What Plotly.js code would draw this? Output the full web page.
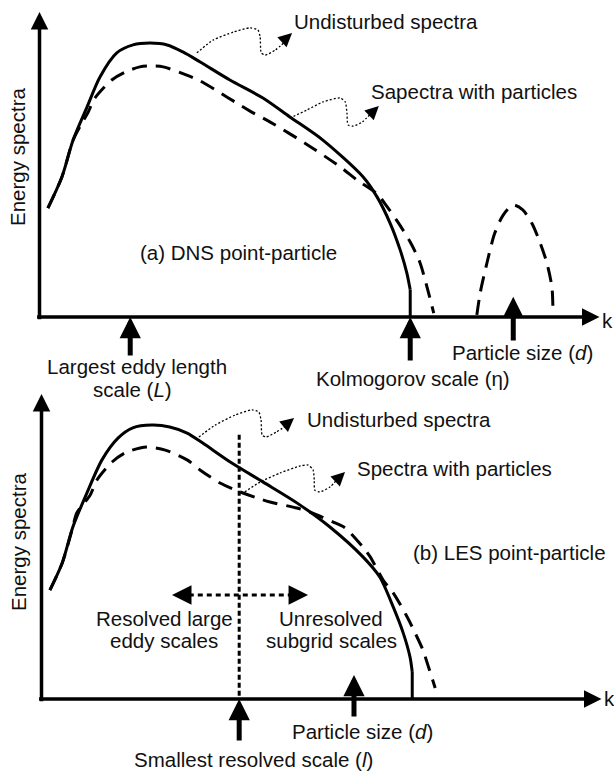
<!DOCTYPE html>
<html>
<head>
<meta charset="utf-8">
<script src="https://cdn.plot.ly/plotly-3.0.1.min.js"></script>
<style>html,body{margin:0;padding:0;background:#fff;}#chart{width:614px;height:771px;}</style>
</head>
<body>
<div id="chart"></div>
<script>
// ---------- Panel (a): DNS point-particle ----------
const topSolidK = [1.5, 4.0, 6.0, 8.5, 10.8, 13.8, 16.7, 19.7, 22.8, 25.6, 28.7, 34.0, 39.9, 44.7, 50.6, 57.8, 60.3, 62.6, 64.4, 65.6, 66.2];
const topSolidE = [35.7, 45.9, 58.0, 68.9, 78.7, 86.6, 89.2, 89.8, 89.2, 86.9, 83.6, 77.7, 71.8, 65.6, 58.0, 45.9, 39.3, 30.8, 22.0, 14.4, 8.9];
const topDropK = [66.2, 66.2];
const topDropE = [8.9, 0];
const topDashK = [1.5, 4.0, 6.0, 7.4, 8.7, 9.9, 12.9, 15.3, 17.9, 19.7, 22.1, 26.3, 28.7, 32.6, 34.9, 37.6, 41.2, 47.4, 53.7, 56.7, 60.3, 62.1, 64.0, 66.2, 67.9, 69.2, 70.4];
const topDashE = [35.7, 45.9, 58.0, 63.0, 67.2, 71.8, 77.7, 80.3, 82.0, 82.3, 82.0, 79.3, 77.4, 73.1, 70.5, 67.5, 63.9, 57.0, 49.2, 44.9, 40.3, 36.1, 31.1, 24.6, 18.0, 9.8, 1.3];
const topBumpK = [78.1, 78.7, 79.9, 81.3, 82.8, 84.6, 86.3, 87.9, 89.4, 90.6, 91.5, 91.7];
const topBumpE = [0.7, 7.9, 17.7, 27.5, 33.4, 36.7, 35.1, 30.8, 24.3, 17.7, 9.8, 0.7];
const topLead1K = [28.1, 31.0, 34.6, 37.6, 39.0, 39.4, 39.6, 40.3, 42.1, 44.0];
const topLead1E = [86.6, 90.8, 93.4, 94.8, 94.1, 91.8, 86.6, 85.9, 87.5, 90.5];
const topLead2K = [44.7, 47.8, 50.6, 53.7, 54.6, 54.9, 55.1, 56.0, 57.6, 59.2];
const topLead2E = [65.2, 67.9, 70.5, 71.8, 70.5, 66.9, 63.0, 62.6, 63.9, 66.7];
// scale markers (k position, arrow tip E, arrow tail E)
const topMarkK = [16.2, 66.2, 84.6];
const topMarkTip = [0, 0, 6.6];
const topMarkTail = [-13.1, -14.8, -8.2];

// ---------- Panel (b): LES point-particle ----------
const botSolidK = [1.5, 3.7, 5.6, 8.1, 10.8, 13.7, 16.3, 19.7, 22.9, 26.0, 28.8, 33.7, 39.6, 45.6, 51.5, 57.4, 60.4, 62.8, 64.6, 65.8, 66.2];
const botSolidE = [35.7, 44.6, 56.4, 67.5, 78.4, 85.6, 88.9, 89.8, 89.2, 87.2, 83.9, 77.7, 71.1, 64.3, 56.4, 46.6, 40.0, 30.2, 21.6, 13.8, 8.9];
const botDropK = [66.2, 66.2];
const botDropE = [8.9, 0];
const botDashK = [1.5, 3.7, 5.6, 6.3, 8.7, 9.9, 12.6, 14.9, 17.6, 19.0, 22.1, 26.0, 28.3, 31.9, 34.6, 38.5, 40.8, 45.6, 47.9, 52.1, 54.2, 57.4, 58.7, 61.0, 62.8, 65.3, 66.2, 68.1, 69.0, 70.3];
const botDashE = [35.7, 44.6, 56.4, 61.0, 66.9, 71.8, 77.7, 80.7, 82.3, 82.6, 81.6, 78.4, 75.1, 70.8, 68.5, 65.9, 64.6, 62.6, 61.3, 58.0, 56.1, 49.8, 46.6, 39.0, 34.8, 26.9, 23.6, 16.1, 11.1, 3.6];
const botLead1K = [28.1, 31.0, 34.6, 37.6, 38.8, 39.2, 39.4, 40.1, 41.9, 43.9];
const botLead1E = [85.9, 89.8, 93.1, 94.8, 94.1, 91.5, 86.6, 85.9, 87.5, 89.8];
const botLead2K = [36.3, 39.0, 42.6, 46.2, 47.6, 48.5, 48.7, 48.8, 49.7, 51.5, 53.0];
const botLead2E = [67.9, 71.1, 74.1, 76.4, 76.7, 75.1, 71.8, 68.5, 67.9, 69.5, 72.4];
const cutoffK = 35.3;          // smallest resolved scale l
const cutoffTopE = 86.6;
const rangeArrowK = [23.3, 47.6]; // resolved <-> unresolved
const rangeArrowE = 34.1;
const botMarkK = [35.3, 55.8];
const botMarkTip = [0, 7.9];
const botMarkTail = [-14.1, -6.2];

// ---------- Labels ----------
const FONT = {family: 'Liberation Sans, Arial, Helvetica, sans-serif', size: 20.5, color: '#111'};
const labels = [
  // [text, xpaper, ypaper, xanchor, angle]
  ['Undisturbed spectra', 0.4756, 0.9715, 'left', 0],
  ['Sapectra with particles', 0.6010, 0.8807, 'left', 0],
  ['(a) DNS point-particle', 0.2248, 0.6719, 'left', 0],
  ['Energy spectra', 0.0293, 0.7964, 'center', -90],
  ['k', 0.9902, 0.5837, 'center', 0],
  ['Largest eddy length', 0.2231, 0.5240, 'center', 0],
  ['scale (<i>L</i>)', 0.2166, 0.4942, 'center', 0],
  ['Kolmogorov scale (η)', 0.6726, 0.5097, 'center', 0],
  ['Particle size (<i>d</i>)', 0.8502, 0.5422, 'center', 0],
  ['Undisturbed spectra', 0.4967, 0.4553, 'left', 0],
  ['Spectra with particles', 0.5782, 0.3917, 'left', 0],
  ['(b) LES point-particle', 0.6694, 0.2840, 'left', 0],
  ['Energy spectra', 0.0293, 0.2970, 'center', -90],
  ['k', 0.9919, 0.0934, 'center', 0],
  ['Resolved large', 0.2687, 0.1984, 'center', 0],
  ['eddy scales', 0.2671, 0.1699, 'center', 0],
  ['Unresolved', 0.5391, 0.1984, 'center', 0],
  ['subgrid scales', 0.5407, 0.1699, 'center', 0],
  ['Particle size (<i>d</i>)', 0.5896, 0.0506, 'center', 0],
  ['Smallest resolved scale (<i>l</i>)', 0.4121, 0.0143, 'center', 0]
];

const K = 'black';
function line(x, y, xa, ya, opts) {
  return Object.assign({x: x, y: y, xaxis: xa, yaxis: ya, mode: 'lines', hoverinfo: 'skip',
    line: Object.assign({color: K, width: 3}, opts)}, {});
}
const traces = [
  line(topSolidK, topSolidE, 'x', 'y', {shape: 'spline', smoothing: 0.8}),
  line(topDropK, topDropE, 'x', 'y', {}),
  line(topDashK, topDashE, 'x', 'y', {shape: 'spline', smoothing: 0.8, dash: '15px,9px'}),
  line(topBumpK, topBumpE, 'x', 'y', {shape: 'spline', smoothing: 0.8, dash: '15px,9px'}),
  line(topLead1K, topLead1E, 'x', 'y', {shape: 'spline', smoothing: 0.6, width: 1.3, dash: '2px,2px'}),
  line(topLead2K, topLead2E, 'x', 'y', {shape: 'spline', smoothing: 0.6, width: 1.3, dash: '2px,2px'}),
  line(botSolidK, botSolidE, 'x2', 'y2', {shape: 'spline', smoothing: 0.8}),
  line(botDropK, botDropE, 'x2', 'y2', {}),
  line(botDashK, botDashE, 'x2', 'y2', {shape: 'spline', smoothing: 0.8, dash: '15px,9px'}),
  line(botLead1K, botLead1E, 'x2', 'y2', {shape: 'spline', smoothing: 0.6, width: 1.3, dash: '2px,2px'}),
  line(botLead2K, botLead2E, 'x2', 'y2', {shape: 'spline', smoothing: 0.6, width: 1.3, dash: '2px,2px'}),
  line([cutoffK, cutoffK], [cutoffTopE, 0], 'x2', 'y2', {width: 3, dash: '5px,3px'}),
  line([rangeArrowK[0] + 3, rangeArrowK[1] - 3], [rangeArrowE, rangeArrowE], 'x2', 'y2', {width: 3, dash: '5px,4px'})
];

const ann = [];
function arrow(xr, yr, x, y, ax, ay, w, s) {
  ann.push({xref: xr, yref: yr, axref: xr, ayref: yr, x: x, y: y, ax: ax, ay: ay, text: '',
    showarrow: true, arrowhead: 2, arrowwidth: w, arrowsize: s, arrowcolor: K, standoff: 0});
}
// axes
arrow('x', 'y', 0, 100, 0, -1.2, 3.5, 1.0);
arrow('x', 'y', 100, 0, -0.7, 0, 3.5, 1.0);
arrow('x2', 'y2', 0, 100, 0, -1.2, 3.5, 1.0);
arrow('x2', 'y2', 100, 0, -0.7, 0, 3.5, 1.0);
// scale markers
topMarkK.forEach((k, i) => arrow('x', 'y', k, topMarkTip[i], k, topMarkTail[i], 5, 0.85));
botMarkK.forEach((k, i) => arrow('x2', 'y2', k, botMarkTip[i], k, botMarkTail[i], 5, 0.85));
// leader arrow heads
arrow('x', 'y', 45.1, 93.1, 43.6, 90.6, 1.3, 2.1);
arrow('x', 'y', 60.6, 69.2, 58.9, 66.2, 1.3, 2.1);
arrow('x2', 'y2', 45.1, 92.1, 43.4, 89.5, 1.3, 2.1);
arrow('x2', 'y2', 54.2, 74.4, 52.6, 71.6, 1.3, 2.1);
// double arrow heads
arrow('x2', 'y2', rangeArrowK[0], rangeArrowE, rangeArrowK[0] + 3.6, rangeArrowE, 3, 1.3);
arrow('x2', 'y2', rangeArrowK[1], rangeArrowE, rangeArrowK[1] - 3.6, rangeArrowE, 3, 1.3);

labels.forEach(l => ann.push({xref: 'paper', yref: 'paper', x: l[1], y: l[2], text: l[0],
  xanchor: l[3], yanchor: 'middle', textangle: l[4], showarrow: false, font: FONT}));

const hid = {visible: false, showgrid: false, zeroline: false, fixedrange: true};
const layout = {
  width: 614, height: 771,
  margin: {l: 0, r: 0, t: 0, b: 0},
  paper_bgcolor: 'white', plot_bgcolor: 'white',
  showlegend: false, hovermode: false,
  xaxis: Object.assign({domain: [0, 1], range: [-7.054, 102.59], anchor: 'y'}, hid),
  yaxis: Object.assign({domain: [0.50065, 1], range: [-22.30, 103.93], anchor: 'x'}, hid),
  xaxis2: Object.assign({domain: [0, 1], range: [-7.411, 102.23], anchor: 'y2'}, hid),
  yaxis2: Object.assign({domain: [0, 0.50065], range: [-23.61, 102.95], anchor: 'x2'}, hid),
  annotations: ann
};
Plotly.newPlot('chart', traces, layout, {staticPlot: true, displayModeBar: false});
</script>
</body>
</html>
